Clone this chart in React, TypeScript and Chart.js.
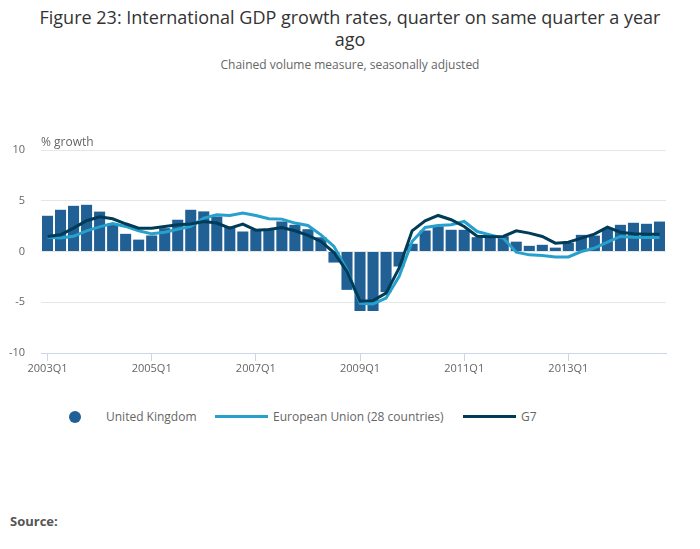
import React, { useEffect, useRef } from "react";
import { Chart, registerables } from "chart.js";

Chart.register(...registerables);

const quarters: string[] = [
  "2003Q1", "2003Q2", "2003Q3", "2003Q4",
  "2004Q1", "2004Q2", "2004Q3", "2004Q4",
  "2005Q1", "2005Q2", "2005Q3", "2005Q4",
  "2006Q1", "2006Q2", "2006Q3", "2006Q4",
  "2007Q1", "2007Q2", "2007Q3", "2007Q4",
  "2008Q1", "2008Q2", "2008Q3", "2008Q4",
  "2009Q1", "2009Q2", "2009Q3", "2009Q4",
  "2010Q1", "2010Q2", "2010Q3", "2010Q4",
  "2011Q1", "2011Q2", "2011Q3", "2011Q4",
  "2012Q1", "2012Q2", "2012Q3", "2012Q4",
  "2013Q1", "2013Q2", "2013Q3", "2013Q4",
  "2014Q1", "2014Q2", "2014Q3", "2014Q4",
];

const unitedKingdom: number[] = [
  3.52, 4.11, 4.5, 4.6, 3.93, 2.75, 1.74, 1.17,
  1.58, 2.3, 3.13, 4.11, 3.95, 3.45, 2.47, 1.97,
  2.14, 2.2, 2.96, 2.63, 2.2, 1.4, -1.09, -3.78,
  -5.86, -5.86, -4.0, -1.48, 0.76, 2.07, 2.47, 2.14,
  2.14, 1.41, 1.45, 1.5, 0.97, 0.56, 0.66, 0.38,
  0.85, 1.64, 1.57, 2.25, 2.63, 2.83, 2.73, 2.95,
];

const europeanUnion: number[] = [
  1.4, 1.32, 1.5, 2.04, 2.43, 2.76, 2.47, 2.04,
  1.74, 1.9, 2.2, 2.47, 3.29, 3.62, 3.55, 3.78,
  3.55, 3.22, 3.19, 2.8, 2.57, 1.64, 0.5, -1.8,
  -5.1, -5.16, -4.6, -2.47, 0.99, 2.37, 2.57, 2.63,
  2.96, 1.97, 1.64, 1.32, -0.07, -0.33, -0.39, -0.53,
  -0.53, 0.0, 0.33, 0.92, 1.48, 1.41, 1.38, 1.38,
];

const g7: number[] = [
  1.48, 1.64, 2.3, 3.03, 3.42, 3.22, 2.73, 2.3,
  2.3, 2.47, 2.63, 2.7, 2.96, 2.8, 2.3, 2.7,
  2.1, 2.17, 2.37, 2.04, 1.58, 0.99, -0.1, -1.97,
  -4.9, -4.84, -4.1, -1.64, 2.04, 3.03, 3.55, 3.13,
  2.47, 1.51, 1.45, 1.48, 2.04, 1.81, 1.48, 0.82,
  0.92, 1.32, 1.71, 2.4, 1.9, 1.74, 1.71, 1.71,
];

const yTicks: number[] = [-10, -5, 0, 5, 10];

const UK_COLOR = "#206095";
const EU_COLOR = "#27a0cc";
const G7_COLOR = "#003c57";
const FONT = "'Open Sans', sans-serif";

const yLabelPlugin = {
  id: "yLabel",
  afterDraw(chart: any) {
    const { ctx, chartArea } = chart;
    ctx.save();
    ctx.font = `12px ${FONT}`;
    ctx.fillStyle = "#666666";
    ctx.textAlign = "left";
    ctx.textBaseline = "alphabetic";
    ctx.fillText("% growth", chartArea.left, chartArea.top - 4);
    ctx.restore();
  },
};

export default function App() {
  const canvasRef = useRef<HTMLCanvasElement | null>(null);

  useEffect(() => {
    if (!canvasRef.current) return;
    const chart = new Chart(canvasRef.current, {
      type: "bar",
      data: {
        labels: quarters,
        datasets: [
          {
            type: "line",
            label: "G7",
            data: g7,
            borderColor: G7_COLOR,
            backgroundColor: G7_COLOR,
            borderWidth: 3,
            pointRadius: 0,
            tension: 0,
            order: 0,
          } as any,
          {
            type: "line",
            label: "European Union (28 countries)",
            data: europeanUnion,
            borderColor: EU_COLOR,
            backgroundColor: EU_COLOR,
            borderWidth: 3,
            pointRadius: 0,
            tension: 0,
            order: 1,
          } as any,
          {
            type: "bar",
            label: "United Kingdom",
            data: unitedKingdom,
            backgroundColor: UK_COLOR,
            barPercentage: 0.85,
            categoryPercentage: 1,
            order: 2,
          } as any,
        ],
      },
      options: {
        responsive: false,
        animation: false,
        devicePixelRatio: 1,
        layout: { padding: { top: 29, right: 34, left: 0, bottom: 0 } },
        plugins: {
          legend: { display: false },
          tooltip: { enabled: false },
          title: { display: false },
        },
        scales: {
          x: {
            offset: true,
            grid: {
              offset: false,
              drawOnChartArea: false,
              drawTicks: true,
              tickLength: 8,
              color: (ctx: any) => (ctx.index % 8 === 0 ? "#ccd6eb" : "rgba(0,0,0,0)"),
            },
            border: { display: true, color: "#ccd6eb", width: 1 },
            ticks: {
              autoSkip: false,
              maxRotation: 0,
              minRotation: 0,
              padding: 1,
              color: "#666666",
              font: { family: FONT, size: 11 },
              callback: (_v: any, i: number) => (i % 8 === 0 ? quarters[i] : ""),
            },
            afterFit: (scale: any) => {
              scale.height = 28;
            },
          },
          y: {
            min: yTicks[0],
            max: yTicks[yTicks.length - 1],
            afterBuildTicks: (scale: any) => {
              scale.ticks = yTicks.map((v) => ({ value: v }));
            },
            grid: {
              color: "#e6e6e6",
              drawTicks: false,
              lineWidth: 1,
            },
            border: { display: false },
            ticks: {
              padding: 16,
              color: "#666666",
              font: { family: FONT, size: 11 },
            },
            afterFit: (scale: any) => {
              scale.width = 41;
            },
          },
        },
      },
      plugins: [yLabelPlugin],
    });
    return () => chart.destroy();
  }, []);

  const textStyle: React.CSSProperties = {
    position: "absolute",
    fontFamily: FONT,
    whiteSpace: "nowrap",
  };

  return (
    <div
      style={{
        position: "absolute",
        left: 0,
        top: 0,
        width: 700,
        height: 549,
        background: "#ffffff",
        fontFamily: FONT,
      }}
    >
      <div
        style={{
          ...textStyle,
          left: 0,
          width: 700,
          top: 6,
          textAlign: "center",
          fontSize: 18,
          lineHeight: "22px",
          color: "#333333",
        }}
      >
        Figure 23: International GDP growth rates, quarter on same quarter a year
        <br />
        ago
      </div>
      <div
        style={{
          ...textStyle,
          left: 0,
          width: 700,
          top: 57,
          textAlign: "center",
          fontSize: 12,
          lineHeight: "16px",
          color: "#666666",
        }}
      >
        Chained volume measure, seasonally adjusted
      </div>
      <canvas
        ref={canvasRef}
        width={700}
        height={260}
        style={{ position: "absolute", left: 0, top: 121, width: 700, height: 260 }}
      />
      <div
        style={{
          position: "absolute",
          left: 69,
          top: 411,
          width: 12,
          height: 12,
          borderRadius: 6,
          background: UK_COLOR,
        }}
      />
      <div style={{ ...textStyle, left: 106, top: 409, fontSize: 12, lineHeight: "16px", color: "#666666" }}>
        United Kingdom
      </div>
      <div
        style={{ position: "absolute", left: 215, top: 415, width: 53, height: 3, background: EU_COLOR }}
      />
      <div style={{ ...textStyle, left: 273, top: 409, fontSize: 12, lineHeight: "16px", color: "#666666" }}>
        European Union (28 countries)
      </div>
      <div
        style={{ position: "absolute", left: 463, top: 415, width: 53, height: 3, background: G7_COLOR }}
      />
      <div style={{ ...textStyle, left: 521, top: 409, fontSize: 12, lineHeight: "16px", color: "#666666" }}>
        G7
      </div>
      <div
        style={{
          ...textStyle,
          left: 10,
          top: 512,
          fontSize: 13,
          lineHeight: "18px",
          fontWeight: "bold",
          color: "#555555",
        }}
      >
        Source:
      </div>
    </div>
  );
}
